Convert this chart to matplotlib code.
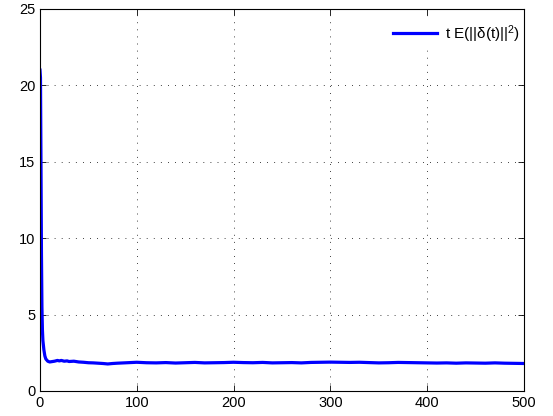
import matplotlib
matplotlib.use("Agg")
import matplotlib.pyplot as plt

t = [0, 0.5, 1, 1.5, 2, 2.5, 3, 4, 5, 6, 8, 10, 12, 15, 18, 20, 22, 25, 28, 30, 35, 40, 45, 50,
     55, 60, 65, 70, 75, 80, 90, 100, 110, 120, 130, 140, 150, 160, 170, 180, 190, 200, 210,
     220, 230, 240, 250, 260, 270, 280, 290, 300, 310, 320, 330, 340, 350, 360, 370, 380,
     390, 400, 410, 420, 430, 440, 450, 460, 470, 480, 490, 500]
val = [21.0, 20.5, 15.0, 9.0, 5.5, 4.0, 3.3, 2.7, 2.3, 2.1, 1.95, 1.9, 1.92, 1.95, 2.0, 1.97, 2.0,
       1.95, 1.97, 1.93, 1.95, 1.9, 1.88, 1.85, 1.84, 1.82, 1.8, 1.77, 1.8, 1.82, 1.85, 1.88,
       1.85, 1.84, 1.86, 1.83, 1.85, 1.87, 1.84, 1.85, 1.86, 1.88, 1.86, 1.85, 1.87, 1.84,
       1.85, 1.86, 1.84, 1.87, 1.88, 1.89, 1.88, 1.87, 1.88, 1.86, 1.84, 1.85, 1.87, 1.86,
       1.85, 1.84, 1.83, 1.84, 1.82, 1.84, 1.83, 1.82, 1.84, 1.82, 1.81, 1.80]

plt.rcParams['font.family'] = ['Liberation Sans', 'DejaVu Sans']
plt.rcParams['mathtext.fontset'] = 'custom'
plt.rcParams['mathtext.rm'] = 'Liberation Sans'
fig = plt.figure(figsize=(5.53, 4.16), dpi=100)
ax = fig.add_axes([40/553, 1-391/416, 484/553, 382/416])
ax.plot(t, val, color='#0000ff', lw=2.3, label='t E(||δ(t)||$\\mathregular{^2}$)')
ax.set_xlim(0, 500)
ax.set_ylim(0, 25)
ax.set_xticks([0, 100, 200, 300, 400, 500])
ax.set_yticks([0, 5, 10, 15, 20, 25])
ax.grid(True, color='black', linestyle=(0, (1, 7.5)), linewidth=0.6)
ax.tick_params(direction='in', top=True, right=True, labelsize=10.5, length=4, width=0.6)
for s in ax.spines.values():
    s.set_linewidth(0.8)
leg = ax.legend(loc='upper right', bbox_to_anchor=(1.01, 0.987), frameon=True, fontsize=11,
                handlelength=2.9, handletextpad=0.5, borderaxespad=0.3, borderpad=0.3)
leg.get_frame().set_edgecolor('white')
leg.get_frame().set_facecolor('white')
leg.get_frame().set_alpha(1)
leg.set_zorder(2.4)
fig.savefig('out.png', dpi=100)
